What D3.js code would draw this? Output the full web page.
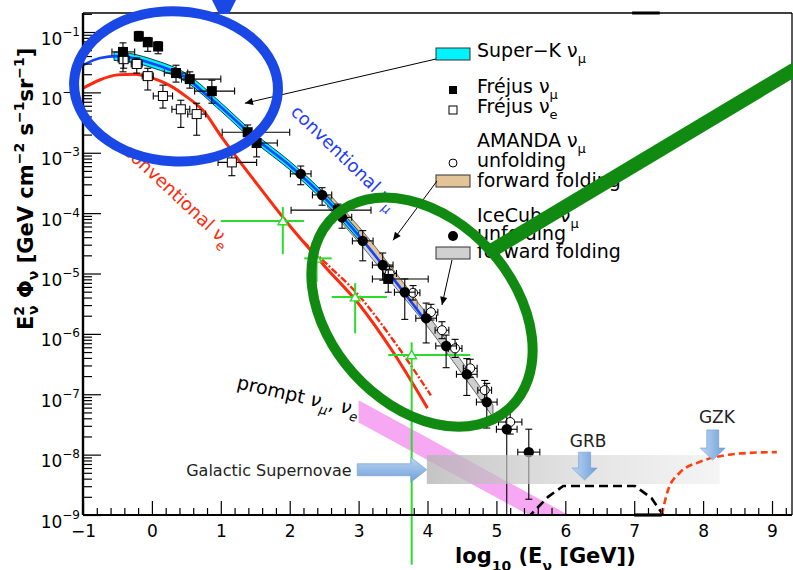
<!DOCTYPE html>
<html>
<head>
<meta charset="utf-8">
<script src="https://cdn.jsdelivr.net/npm/d3@7"></script>
<style>
  body { margin: 0; background: #fff; }
  svg { display: block; font-family: "DejaVu Sans", sans-serif; }
</style>
</head>
<body>
<svg id="chart" width="793" height="570"></svg>
<script>
// ---------------- data (x: log10(E/GeV), y: E^2 Phi in GeV cm^-2 s^-1 sr^-1) ----------------
// conventional atmospheric nu_mu model
const convMuE    = [-1, -0.75, -0.5, -0.25, 0, 0.25, 0.5, 0.75, 1.0, 1.5, 2.0, 2.5, 3.0, 3.5, 3.95];
const convMuFlux = [2.82e-2, 3.72e-2, 3.98e-2, 3.63e-2, 3.02e-2, 2.40e-2, 1.74e-2, 1.0e-2, 5.75e-3, 1.74e-3, 6.17e-4, 1.82e-4, 4.27e-5, 8.32e-6, 1.78e-6];

// conventional atmospheric nu_e model (solid) and its variant (dash-dot)
const convEE    = [-1, -0.75, -0.5, -0.25, 0, 0.25, 0.5, 0.75, 1.0, 1.5, 2.0, 2.5, 3.0, 3.5, 4.0];
const convEFlux = [1.17e-2, 1.62e-2, 1.95e-2, 2.0e-2, 1.74e-2, 1.32e-2, 8.51e-3, 4.90e-3, 1.91e-3, 3.31e-4, 6.17e-5, 1.35e-5, 3.16e-6, 5.01e-7, 5.89e-8];
const convE2E    = [2.2, 2.5, 3.0, 3.5, 4.05];
const convE2Flux = [3.39e-5, 1.58e-5, 4.37e-6, 7.94e-7, 9.55e-8];

// Super-K nu_mu band
const superKE  = [-0.55, -0.25, 0, 0.5, 1.0, 1.5, 2.0, 2.5, 3.0];
const superKLo = [3.39e-2, 3.09e-2, 2.57e-2, 1.48e-2, 4.90e-3, 1.48e-3, 5.25e-4, 1.55e-4, 3.63e-5];
const superKHi = [4.68e-2, 4.27e-2, 3.55e-2, 2.04e-2, 6.76e-3, 2.04e-3, 7.24e-4, 2.14e-4, 5.01e-5];

// AMANDA forward folding band
const amandaFFE  = [2.6, 3.0, 3.5, 3.85];
const amandaFFLo = [1.32e-4, 4.17e-5, 8.13e-6, 2.45e-6];
const amandaFFHi = [1.91e-4, 6.03e-5, 1.17e-5, 3.55e-6];

// IceCube forward folding band
const icecubeFFE  = [2.55, 3.0, 3.5, 4.0, 4.5, 4.95];
const icecubeFFLo = [1.26e-4, 3.31e-5, 6.61e-6, 1.32e-6, 2.19e-7, 4.17e-8];
const icecubeFFHi = [2.0e-4, 5.25e-5, 1.05e-5, 2.09e-6, 3.47e-7, 6.61e-8];

// IceCube nu_mu unfolding (errors in decades / in log10 E)
const icecubeE     = [2.16, 2.47, 2.76, 3.06, 3.35, 3.67, 3.98, 4.27, 4.57, 4.86, 5.15, 5.47];
const icecubeFlux  = [4.47e-4, 2.0e-4, 8.51e-5, 3.47e-5, 1.38e-5, 4.90e-6, 1.82e-6, 6.31e-7, 2.14e-7, 7.41e-8, 2.63e-8, 1.10e-8];
const icecubeErrUp = [0.13, 0.12, 0.12, 0.17, 0.20, 0.22, 0.25, 0.18, 0.26, 0.31, 0.36, 0.38];
const icecubeErrDn = [0.18, 0.17, 0.18, 0.33, 0.25, 0.45, 0.41, 0.36, 0.35, 0.43, 3.0, 0.78];
const icecubeErrE  = [0.15, 0.14, 0.14, 0.15, 0.15, 0.15, 0.15, 0.15, 0.15, 0.15, 0.15, 0.16];

// AMANDA nu_mu unfolding
const amandaE     = [3.45, 3.79, 4.05, 4.21, 4.40, 4.62, 4.83, 5.20];
const amandaFlux  = [1.0e-5, 4.79e-6, 2.29e-6, 1.15e-6, 5.75e-7, 2.69e-7, 1.17e-7, 3.47e-8];
const amandaErrY  = [0.12, 0.12, 0.13, 0.14, 0.15, 0.15, 0.16, 0.2];
const amandaErrE  = [0.1, 0.1, 0.1, 0.1, 0.1, 0.1, 0.1, 0.17];

// Frejus nu_mu
const frejusMuE     = [-0.42, -0.19, -0.06, 0.09, 0.35, 0.55, 0.87, 1.39, 1.52, 2.70, 3.43];
const frejusMuFlux  = [4.68e-2, 8.51e-2, 6.76e-2, 5.75e-2, 2.09e-2, 1.66e-2, 1.05e-2, 2.19e-3, 1.45e-3, 1.12e-4, 8.13e-6];
const frejusMuErrUp = [0.15, 0.08, 0.08, 0.08, 0.13, 0.12, 0.18, 0.12, 0.17, 0.1, 0.15];
const frejusMuErrDn = [0.33, 0.08, 0.15, 0.12, 0.15, 0.15, 0.2, 0.13, 0.23, 0.1, 0.22];
const frejusMuErrLo = [0.16, 0.05, 0.05, 0.05, 0.17, 0.12, 0.25, 0.37, 0.14, 0.68, 0.23];
const frejusMuErrHi = [0.17, 0.05, 0.05, 0.05, 0.17, 0.45, 0.33, 0.61, 0.30, 0.48, 0.58];

// Frejus nu_e
const frejusEE     = [-0.41, -0.22, -0.06, 0.16, 0.42, 0.65, 1.16];
const frejusEFlux  = [3.55e-2, 2.95e-2, 1.86e-2, 8.71e-3, 5.25e-3, 4.37e-3, 6.92e-4];
const frejusEErrUp = [0.1, 0.1, 0.13, 0.18, 0.15, 0.18, 0.15];
const frejusEErrDn = [0.15, 0.15, 0.23, 0.2, 0.3, 0.35, 0.22];
const frejusEErrLo = [0.08, 0.08, 0.08, 0.14, 0.13, 0.13, 0.2];
const frejusEErrHi = [0.08, 0.08, 0.08, 0.14, 0.13, 0.13, 0.36];

// IceCube cascade-type measurements and limit (green)
const greenE      = [1.90, 2.39, 2.95, 3.77];
const greenFlux   = [7.41e-5, 1.78e-5, 4.07e-6, 4.47e-7];
const greenELo    = [1.00, 2.21, 2.61, 3.43];
const greenEHi    = [2.21, 2.61, 3.41, 4.62];
const greenFluxHi = [1.26e-4, 3.16e-5, 6.92e-6, 7.24e-7];
const greenFluxLo = [2.09e-5, 7.24e-6, 1.02e-6, 1.5e-10];

// prompt nu_mu, nu_e band
const promptE  = [3.0, 4.0, 5.0, 6.0, 6.6];
const promptHi = [7.94e-8, 1.91e-8, 4.47e-9, 1.07e-9, 4.47e-10];
const promptLo = [3.39e-8, 8.13e-9, 1.95e-9, 4.68e-10, 2.0e-10];

// GRB and GZK model curves
const grbE    = [5.45, 5.75, 5.97, 6.5, 7.01, 7.25, 7.42];
const grbFlux = [8.91e-10, 2.0e-9, 3.02e-9, 3.02e-9, 3.02e-9, 1.91e-9, 1.0e-9];
const gzkE    = [7.40, 7.49, 7.66, 7.95, 8.32, 8.68, 9.07];
const gzkFlux = [1.0e-9, 2.57e-9, 5.01e-9, 7.59e-9, 9.77e-9, 1.07e-8, 1.10e-8];

// axis ticks
const xMajor = [-1, 0, 1, 2, 3, 4, 5, 6, 7, 8, 9];
const yDecades = [-9, -8, -7, -6, -5, -4, -3, -2, -1];

// ---------------- layout ----------------
const svg = d3.select("#chart");
const L = 83, R = 792, T = 13, B = 515;
const x = d3.scaleLinear().domain([-1, 9.29]).range([L, R]);
const y = d3.scaleLog().domain([1e-9, 0.2065]).range([B, T]);

const defs = svg.append("defs");
defs.append("clipPath").attr("id", "plotClip")
  .append("rect").attr("x", L).attr("y", T).attr("width", R - L).attr("height", B - T);

const gGray = defs.append("linearGradient").attr("id", "grayBand").attr("x1", 0).attr("x2", 1).attr("y1", 0).attr("y2", 0);
gGray.append("stop").attr("offset", 0).attr("stop-color", "#b4b4b4").attr("stop-opacity", 0.78);
gGray.append("stop").attr("offset", 0.55).attr("stop-color", "#d2d2d2").attr("stop-opacity", 0.6);
gGray.append("stop").attr("offset", 1).attr("stop-color", "#ececec").attr("stop-opacity", 0.55);

const gBlue = defs.append("linearGradient").attr("id", "arrowBlue").attr("x1", 0).attr("x2", 0).attr("y1", 0).attr("y2", 1);
gBlue.append("stop").attr("offset", 0).attr("stop-color", "#bcd6f3");
gBlue.append("stop").attr("offset", 1).attr("stop-color", "#6f9fd8");
const gBlueH = defs.append("linearGradient").attr("id", "arrowBlueH").attr("x1", 0).attr("x2", 1).attr("y1", 0).attr("y2", 0);
gBlueH.append("stop").attr("offset", 0).attr("stop-color", "#bcd6f3");
gBlueH.append("stop").attr("offset", 1).attr("stop-color", "#6f9fd8");

defs.append("marker").attr("id", "arr").attr("viewBox", "0 0 10 10")
  .attr("refX", 10).attr("refY", 5).attr("markerWidth", 11).attr("markerHeight", 8)
  .attr("markerUnits", "userSpaceOnUse").attr("orient", "auto")
  .append("path").attr("d", "M0,0.5 L10,5 L0,9.5 Z").attr("fill", "#000");

const plot = svg.append("g").attr("clip-path", "url(#plotClip)");

const bandPath = (xs, lo, hi, curve) => d3.area()
  .x((d, i) => x(xs[i])).y0((d, i) => y(lo[i])).y1((d, i) => y(hi[i]))
  .curve(curve || d3.curveMonotoneX)(xs);
const linePath = (xs, ys, curve) => d3.line()
  .x((d, i) => x(xs[i])).y((d, i) => y(ys[i]))
  .curve(curve || d3.curveMonotoneX)(xs);

// prompt band
plot.append("path").attr("d", bandPath(promptE, promptLo, promptHi, d3.curveLinear))
  .attr("fill", "#f7a8f3");

// GRB model curve
plot.append("path").attr("d", linePath(grbE, grbFlux, d3.curveLinear))
  .attr("fill", "none").attr("stroke", "#000").attr("stroke-width", 2.6).attr("stroke-dasharray", "9,5");

// conventional nu_e
plot.append("path").attr("d", linePath(convEE, convEFlux))
  .attr("fill", "none").attr("stroke", "#ff2a0e").attr("stroke-width", 3);
plot.append("path").attr("d", linePath(convE2E, convE2Flux))
  .attr("fill", "none").attr("stroke", "#ff2a0e").attr("stroke-width", 2.4).attr("stroke-dasharray", "7,2,2,2");

// forward folding bands, Super-K band, conventional nu_mu
plot.append("path").attr("d", bandPath(icecubeFFE, icecubeFFLo, icecubeFFHi))
  .attr("fill", "#d0d0d0").attr("stroke", "#444").attr("stroke-width", 0.8);
plot.append("path").attr("d", bandPath(amandaFFE, amandaFFLo, amandaFFHi))
  .attr("fill", "#e2c497").attr("stroke", "#444").attr("stroke-width", 0.8);
plot.append("path").attr("d", bandPath(superKE, superKLo, superKHi))
  .attr("fill", "#00f4ff").attr("stroke", "#123").attr("stroke-width", 0.9);
plot.append("path").attr("d", linePath(convMuE, convMuFlux))
  .attr("fill", "none").attr("stroke", "#1244ff").attr("stroke-width", 2.6);

// green measurements
const green = svg.append("g").attr("stroke", "#2bdc2b").attr("stroke-width", 2).attr("fill", "none");
greenE.forEach((e, i) => {
  const cx = x(e), cy = y(greenFlux[i]);
  green.append("line").attr("x1", x(greenELo[i])).attr("x2", x(greenEHi[i])).attr("y1", cy).attr("y2", cy);
  green.append("line").attr("x1", cx).attr("x2", cx).attr("y1", y(greenFluxHi[i])).attr("y2", y(greenFluxLo[i]));
  green.append("path").attr("d", d3.symbol(d3.symbolTriangle, 40)())
    .attr("transform", `translate(${cx},${cy + 1})`).attr("fill", "#fff").attr("stroke-width", 1.4);
});

// error bars helper
function errorBars(g, xs, fl, eLo, eHi, dUp, dDn) {
  const grp = g.append("g").attr("stroke", "#000").attr("stroke-width", 1.1);
  xs.forEach((e, i) => {
    const cx = x(e), cy = y(fl[i]);
    const x0 = x(e - eLo[i]), x1 = x(e + eHi[i]);
    const y0 = y(fl[i] * Math.pow(10, dUp[i])), y1 = y(fl[i] / Math.pow(10, dDn[i]));
    grp.append("line").attr("x1", x0).attr("x2", x1).attr("y1", cy).attr("y2", cy);
    grp.append("line").attr("x1", cx).attr("x2", cx).attr("y1", y0).attr("y2", y1);
    [x0, x1].forEach(xx => grp.append("line").attr("x1", xx).attr("x2", xx).attr("y1", cy - 3.5).attr("y2", cy + 3.5));
    [y0, y1].forEach(yy => grp.append("line").attr("x1", cx - 3.5).attr("x2", cx + 3.5).attr("y1", yy).attr("y2", yy));
  });
}

const data = svg.append("g").attr("clip-path", "url(#plotClip)");

// AMANDA unfolding (open circles)
errorBars(data, amandaE, amandaFlux, amandaErrE, amandaErrE, amandaErrY, amandaErrY);
data.append("g").selectAll("circle").data(amandaE).join("circle")
  .attr("cx", d => x(d)).attr("cy", (d, i) => y(amandaFlux[i])).attr("r", 4.5)
  .attr("fill", "#fff").attr("stroke", "#000").attr("stroke-width", 1);

// Frejus nu_e (open squares)
errorBars(data, frejusEE, frejusEFlux, frejusEErrLo, frejusEErrHi, frejusEErrUp, frejusEErrDn);
data.append("g").selectAll("rect").data(frejusEE).join("rect")
  .attr("x", d => x(d) - 4.5).attr("y", (d, i) => y(frejusEFlux[i]) - 4.5).attr("width", 9).attr("height", 9)
  .attr("fill", "#fff").attr("stroke", "#000").attr("stroke-width", 1);

// Frejus nu_mu (filled squares)
errorBars(data, frejusMuE, frejusMuFlux, frejusMuErrLo, frejusMuErrHi, frejusMuErrUp, frejusMuErrDn);
data.append("g").selectAll("rect").data(frejusMuE).join("rect")
  .attr("x", d => x(d) - 5).attr("y", (d, i) => y(frejusMuFlux[i]) - 5).attr("width", 10).attr("height", 10)
  .attr("fill", "#000");

// IceCube unfolding (filled circles)
errorBars(data, icecubeE, icecubeFlux, icecubeErrE, icecubeErrE, icecubeErrUp, icecubeErrDn);
data.append("g").selectAll("circle").data(icecubeE).join("circle")
  .attr("cx", d => x(d)).attr("cy", (d, i) => y(icecubeFlux[i])).attr("r", 5.2).attr("fill", "#000");

// source-class markers: Galactic SN band and arrows
const snBand = { e0: 3.99, e1: 8.24, lo: 3.26e-9, hi: 9.84e-9 };
svg.append("rect").attr("x", x(snBand.e0)).attr("y", y(snBand.hi))
  .attr("width", x(snBand.e1) - x(snBand.e0)).attr("height", y(snBand.lo) - y(snBand.hi))
  .attr("fill", "url(#grayBand)");

// GZK model curve (above the gray band)
svg.append("g").attr("clip-path", "url(#plotClip)")
  .append("path").attr("d", linePath(gzkE, gzkFlux))
  .attr("fill", "none").attr("stroke", "#ff4010").attr("stroke-width", 2.6).attr("stroke-dasharray", "7,4");

const snArrow = { e0: 2.98, e1: 3.99, f: 5.62e-9 };
{
  const x0 = x(snArrow.e0), x1 = x(snArrow.e1), cy = y(snArrow.f);
  svg.append("path")
    .attr("d", `M${x0},${cy - 6}L${x1 - 16},${cy - 6}L${x1 - 16},${cy - 12.5}L${x1},${cy}L${x1 - 16},${cy + 12.5}L${x1 - 16},${cy + 6}L${x0},${cy + 6}Z`)
    .attr("fill", "url(#arrowBlue)").attr("stroke", "#6d9bd2").attr("stroke-width", 0.6);
}
const downArrows = [{ e: 6.28, top: 1.10e-8, tip: 3.8e-9 }, { e: 8.14, top: 2.57e-8, tip: 8.13e-9 }];
downArrows.forEach(a => {
  const cx = x(a.e), y0 = y(a.top), y1 = y(a.tip);
  svg.append("path")
    .attr("d", `M${cx - 6},${y0}L${cx + 6},${y0}L${cx + 6},${y1 - 12}L${cx + 12.5},${y1 - 12}L${cx},${y1}L${cx - 12.5},${y1 - 12}L${cx - 6},${y1 - 12}Z`)
    .attr("fill", "url(#arrowBlueH)").attr("stroke", "#6d9bd2").attr("stroke-width", 0.6);
});

svg.append("text").attr("x", x(2.90)).attr("y", y(4.47e-9)).attr("text-anchor", "end")
  .attr("font-size", 16).attr("fill", "#222").text("Galactic Supernovae");
svg.append("text").attr("x", x(6.33)).attr("y", y(1.35e-8)).attr("text-anchor", "middle")
  .attr("font-size", 17).attr("fill", "#222").text("GRB");
svg.append("text").attr("x", x(8.2)).attr("y", y(3.31e-8)).attr("text-anchor", "middle")
  .attr("font-size", 17).attr("fill", "#222").text("GZK");

// ---------------- axes ----------------
const xMinor = d3.range(-5, 47).map(i => i / 5).filter(v => Math.abs(v - Math.round(v)) > 1e-6);
const axisFont = g => g.attr("font-family", "DejaVu Sans, sans-serif").attr("font-size", 17);

svg.append("g").attr("transform", `translate(0,${B})`)
  .call(d3.axisBottom(x).tickValues(xMinor).tickSize(-7).tickFormat(""))
  .call(g => g.select(".domain").remove())
  .call(g => g.selectAll("line").attr("stroke-width", 1.2));
svg.append("g").attr("transform", `translate(0,${B})`)
  .call(d3.axisBottom(x).tickValues(xMajor).tickSize(-14).tickPadding(10).tickFormat(d3.format("d")))
  .call(axisFont)
  .call(g => g.select(".domain").remove())
  .call(g => g.selectAll("line").attr("stroke-width", 1.2))
  .call(g => g.selectAll("text").attr("fill", "#000"));

const yMajor = yDecades.map(p => Math.pow(10, p));
const yMinor = [];
yDecades.forEach(p => d3.range(2, 10).forEach(m => { const v = m * Math.pow(10, p); if (v <= 0.2065) yMinor.push(v); }));

svg.append("g").attr("transform", `translate(${L},0)`)
  .call(d3.axisLeft(y).tickValues(yMinor).tickSize(-9).tickFormat(""))
  .call(g => g.select(".domain").remove())
  .call(g => g.selectAll("line").attr("stroke-width", 1.2));
svg.append("g").attr("transform", `translate(${L},0)`)
  .call(d3.axisLeft(y).tickValues(yMajor).tickSize(-18).tickPadding(3).tickFormat(() => ""))
  .call(axisFont)
  .call(g => g.select(".domain").remove())
  .call(g => g.selectAll("line").attr("stroke-width", 1.2))
  .call(g => g.selectAll("text").each(function (d) {
    const t = d3.select(this).attr("dy", "12px").attr("fill", "#000");
    t.append("tspan").text("10");
    t.append("tspan").attr("font-size", 12).attr("dy", -9).text("\u2212" + Math.abs(Math.round(Math.log10(d))));
  }));

// frame
svg.append("line").attr("x1", L).attr("x2", R).attr("y1", T).attr("y2", T).attr("stroke", "#000").attr("stroke-width", 1.3);
svg.append("line").attr("x1", R).attr("x2", R).attr("y1", T).attr("y2", B).attr("stroke", "#000").attr("stroke-width", 1.3);
svg.append("line").attr("x1", L).attr("x2", R).attr("y1", B).attr("y2", B).attr("stroke", "#000").attr("stroke-width", 2.2);
svg.append("line").attr("x1", L).attr("x2", L).attr("y1", T).attr("y2", B).attr("stroke", "#000").attr("stroke-width", 2.4);
svg.append("line").attr("x1", x(6.97)).attr("x2", x(7.37)).attr("y1", T).attr("y2", T).attr("stroke", "#000").attr("stroke-width", 3);
svg.append("line").attr("x1", x(7.0)).attr("x2", x(7.4)).attr("y1", B).attr("y2", B).attr("stroke", "#000").attr("stroke-width", 3.2);

// axis titles
{
  const t = svg.append("text").attr("x", 455).attr("y", 563).attr("font-size", 21).attr("font-weight", "bold");
  t.append("tspan").text("log");
  t.append("tspan").attr("font-size", 14).attr("dy", 8).text("10");
  t.append("tspan").attr("dy", -8).text(" (E");
  t.append("tspan").attr("font-size", 14).attr("dy", 8).text("\u03bd");
  t.append("tspan").attr("dy", -8).text(" [GeV])");
}
{
  const t = svg.append("text").attr("transform", "translate(33,330) rotate(-90)")
    .attr("font-size", 21).attr("font-weight", "bold");
  t.append("tspan").text("E");
  t.append("tspan").attr("font-size", 14).attr("dy", -9).text("2");
  t.append("tspan").attr("font-size", 14).attr("dx", -9).attr("dy", 14).text("\u03bd");
  t.append("tspan").attr("dy", -5).text(" \u03a6");
  t.append("tspan").attr("font-size", 14).attr("dy", 5).text("\u03bd");
  t.append("tspan").attr("dy", -5).text(" [GeV cm");
  t.append("tspan").attr("font-size", 14).attr("dy", -9).text("\u22122");
  t.append("tspan").attr("dy", 9).text(" s");
  t.append("tspan").attr("font-size", 14).attr("dy", -9).text("\u22121");
  t.append("tspan").attr("dy", 9).text("sr");
  t.append("tspan").attr("font-size", 14).attr("dy", -9).text("\u22121");
  t.append("tspan").attr("dy", 9).text("]");
}

// ---------------- legend ----------------
const lg = svg.append("g").attr("font-size", 19).attr("fill", "#000");
const legendBox = (yy, fill) => lg.append("rect").attr("x", 436).attr("y", yy).attr("width", 34).attr("height", 12)
  .attr("fill", fill).attr("stroke", "#333").attr("stroke-width", 1);
const legendText = (yy, main, greek, sub) => {
  const t = lg.append("text").attr("x", 477).attr("y", yy).text(main);
  if (greek) {
    t.append("tspan").text(greek);
    t.append("tspan").attr("font-size", 13).attr("dy", 6).text(sub);
  }
};
legendBox(48, "#00f4ff");
legendText(57, "Super\u2212K ", "\u03bd", "\u03bc");
lg.append("rect").attr("x", 449).attr("y", 86).attr("width", 8).attr("height", 8).attr("fill", "#000");
legendText(93, "Fr\u00e9jus ", "\u03bd", "\u03bc");
lg.append("rect").attr("x", 449).attr("y", 106).attr("width", 8).attr("height", 8).attr("fill", "#fff").attr("stroke", "#000");
legendText(113, "Fr\u00e9jus ", "\u03bd", "e");
legendText(147, "AMANDA ", "\u03bd", "\u03bc");
lg.append("circle").attr("cx", 453).attr("cy", 163).attr("r", 4).attr("fill", "#fff").attr("stroke", "#000");
legendText(167, "unfolding");
legendBox(175, "#e2c497");
legendText(187, "forward folding");
legendText(222, "IceCube ", "\u03bd", "\u03bc");
lg.append("circle").attr("cx", 453).attr("cy", 236).attr("r", 5).attr("fill", "#000");
legendText(240, "unfolding");
legendBox(247, "#d0d0d0");
legendText(258, "forward folding");

// pointer lines from legend entries to their bands
const pointers = [
  { from: [436, 59], e: 1.35, f: 6.61e-3 },
  { from: [437, 181], e: 3.50, f: 3.55e-5 },
  { from: [452, 260], e: 4.21, f: 3.02e-6 }
];
pointers.forEach(p => svg.append("line")
  .attr("x1", p.from[0]).attr("y1", p.from[1]).attr("x2", x(p.e)).attr("y2", y(p.f))
  .attr("stroke", "#000").attr("stroke-width", 1).attr("marker-end", "url(#arr)"));

// ---------------- curve labels ----------------
{
  const t = svg.append("text").attr("transform", `translate(${x(2.0)},${y(4.57e-3)}) rotate(44)`)
    .attr("font-size", 18).attr("fill", "#1f3cff").text("conventional ");
  t.append("tspan").text("\u03bd");
  t.append("tspan").attr("font-size", 13).attr("dy", 6).text("\u03bc");
}
{
  const t = svg.append("text").attr("transform", `translate(${x(-0.43)},${y(1.02e-3)}) rotate(43)`)
    .attr("font-size", 18).attr("fill", "#ff2a0e").text("conventional ");
  t.append("tspan").text("\u03bd");
  t.append("tspan").attr("font-size", 13).attr("dy", 6).text("e");
}
{
  const t = svg.append("text").attr("transform", `translate(${x(1.22)},${y(1.26e-7)}) rotate(13)`)
    .attr("font-size", 19).attr("fill", "#000").text("prompt ");
  t.append("tspan").attr("font-style", "italic").text("\u03bd");
  t.append("tspan").attr("font-size", 13).attr("font-style", "italic").attr("dy", 6).text("\u03bc");
  t.append("tspan").attr("dy", -6).text(", ");
  t.append("tspan").attr("font-style", "italic").text("\u03bd");
  t.append("tspan").attr("font-size", 13).attr("font-style", "italic").attr("dy", 6).text("e");
}

// ---------------- highlight marks ----------------
const rings = [
  { e: 0.35, f: 1.26e-2, rx: 102, ry: 75, rot: 3, color: "#1a48e6" },
  { e: 3.92, f: 2.29e-6, rx: 130, ry: 92, rot: 48, color: "#118a11" }
];
rings.forEach(r => {
  const cx = x(r.e), cy = y(r.f);
  svg.append("ellipse").attr("cx", cx).attr("cy", cy).attr("rx", r.rx).attr("ry", r.ry)
    .attr("transform", `rotate(${r.rot},${cx},${cy})`)
    .attr("fill", "none").attr("stroke", r.color).attr("stroke-width", 10);
});
const slash = { e0: 4.89, f0: 2.24e-5, e1: 9.4, f1: 2.69e-2 };
svg.append("line").attr("x1", x(slash.e0)).attr("y1", y(slash.f0)).attr("x2", x(slash.e1)).attr("y2", y(slash.f1))
  .attr("stroke", "#118a11").attr("stroke-width", 14);
svg.append("path").attr("d", "M212,0L236,0L229,14L219,14Z").attr("fill", "#1a48e6");
</script>
</body>
</html>
